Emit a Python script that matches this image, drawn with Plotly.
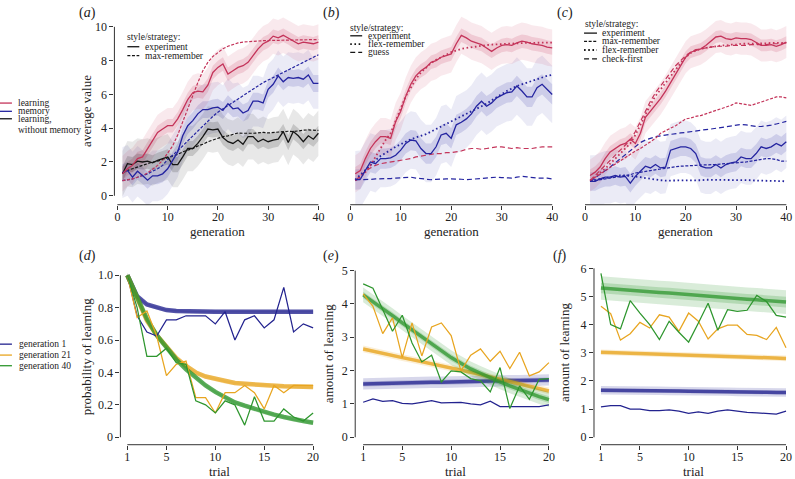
import plotly.graph_objects as go

W, H = 795, 479
FONT = "'Liberation Serif', 'Times New Roman', 'DejaVu Serif', serif"

gens = list(range(1, 41))
trials = list(range(1, 21))

# ---------------- panel (a) ----------------
a_learn_exp = [1.3, 1.6, 1.8, 2.2, 2.3, 2.8, 3.3, 3.75, 3.95, 4.15, 4.15, 4.55, 5.1, 5.7, 6.1, 6.2, 6.15, 6.55, 7.3, 7.6,
               7.8, 7.2, 7.4, 7.6, 7.7, 7.9, 8.3, 8.7, 9.0, 9.15, 9.45, 9.35, 9.5, 9.35, 9.15, 9.0, 9.1, 9.05, 9.0, 9.1]
a_learn_max = [0.9, 0.95, 1.0, 1.1, 1.2, 1.35, 1.55, 1.8, 2.1, 2.5, 2.95, 3.6, 4.4, 5.1, 5.9, 6.7, 7.4, 7.9, 8.25, 8.5,
               8.7, 8.85, 8.97, 9.05, 9.1, 9.13, 9.15, 9.17, 9.18, 9.19, 9.2, 9.2, 9.21, 9.22, 9.22, 9.23, 9.23, 9.24, 9.24, 9.25]
a_mem_exp = [1.37, 1.5, 1.1, 1.45, 1.2, 0.92, 1.18, 1.18, 1.3, 1.6, 2.1, 2.6, 3.55, 4.15, 4.45, 4.85, 5.1, 5.1, 5.2, 5.25,
             5.05, 5.45, 5.15, 5.2, 4.9, 5.05, 5.6, 5.6, 5.5, 6.3, 6.6, 7.1, 6.75, 7.0, 6.95, 7.0, 6.9, 7.15, 6.65, 6.65]
a_mem_max = [0.9, 0.95, 1.0, 1.1, 1.2, 1.3, 1.45, 1.6, 1.8, 2.15, 2.4, 2.65, 2.95, 3.25, 3.55, 3.85, 4.15, 4.45, 4.7, 4.95,
             5.15, 5.35, 5.55, 5.75, 5.95, 6.15, 6.35, 6.55, 6.7, 6.85, 7.0, 7.15, 7.3, 7.45, 7.6, 7.75, 7.9, 8.05, 8.2, 8.35]
a_nomem_exp = [1.3, 1.9, 1.85, 2.05, 2.0, 2.05, 1.95, 2.1, 2.2, 2.3, 1.85, 1.85, 2.3, 2.8, 2.8, 3.1, 3.5, 3.95, 3.9, 3.95,
               3.45, 3.2, 3.1, 3.3, 3.05, 3.5, 3.5, 3.2, 3.35, 3.2, 3.3, 3.35, 3.8, 3.15, 3.8, 3.55, 3.2, 3.55, 3.35, 3.7]
a_nomem_max = [1.35, 1.5, 1.6, 1.7, 1.8, 1.9, 2.0, 2.05, 2.15, 2.25, 2.35, 2.45, 2.6, 2.7, 2.8, 2.95, 3.05, 3.2, 3.3, 3.4,
               3.5, 3.55, 3.65, 3.72, 3.7, 3.68, 3.7, 3.72, 3.75, 3.72, 3.75, 3.78, 3.8, 3.82, 3.8, 3.85, 3.88, 3.9, 3.88, 3.87]
# (inner, outer) half-widths of the shaded intervals
a_learn_ci = (0.4, 1.05)
a_mem_ci = (0.5, 1.5)
a_nomem_ci = (0.45, 1.35)

# ---------------- panel (b) ----------------
b_learn_exp = [1.3, 1.5, 2.2, 2.8, 3.2, 3.5, 3.5, 3.4, 4.4, 5.0, 5.9, 6.6, 7.1, 7.4, 7.6, 7.9, 8.0, 8.2, 8.3, 8.4,
               9.0, 9.5, 9.35, 9.15, 9.05, 8.95, 8.75, 8.55, 8.75, 8.9, 8.95, 8.9, 9.05, 9.15, 9.1, 9.0, 8.95, 8.9, 8.8, 8.75]
b_learn_flex = [0.9, 1.1, 1.4, 1.8, 2.3, 2.8, 3.3, 3.7, 4.4, 5.2, 5.9, 6.4, 6.9, 7.3, 7.6, 7.85, 8.05, 8.2, 8.35, 8.5,
                8.6, 8.7, 8.75, 8.8, 8.85, 8.9, 8.92, 8.95, 8.97, 9.0, 9.0, 9.02, 9.03, 9.04, 9.05, 9.05, 9.06, 9.06, 9.07, 9.07]
b_learn_guess = [0.9, 1.2, 1.45, 1.65, 1.8, 1.9, 1.95, 2.0, 2.05, 2.1, 2.15, 2.2, 2.3, 2.35, 2.4, 2.45, 2.5, 2.5, 2.55, 2.55,
                 2.6, 2.65, 2.75, 2.8, 2.8, 2.75, 2.8, 2.85, 2.9, 2.9, 2.85, 2.8, 2.85, 2.8, 2.8, 2.8, 2.85, 2.9, 2.9, 2.9]
b_mem_exp = [0.95, 0.98, 1.5, 2.0, 1.9, 2.2, 2.2, 2.25, 2.4, 2.7, 3.1, 3.3, 3.25, 2.8, 2.5, 2.5, 2.9, 3.6, 3.7, 3.4,
             4.2, 4.35, 4.55, 4.85, 5.3, 5.6, 5.3, 5.5, 5.8, 5.95, 6.1, 6.15, 6.5, 6.2, 5.85, 5.85, 6.4, 6.6, 6.3, 6.0]
b_mem_flex = [0.95, 1.25, 1.55, 1.85, 2.1, 2.35, 2.55, 2.75, 2.9, 3.05, 3.2, 3.35, 3.45, 3.55, 3.65, 3.8, 3.95, 4.1, 4.25, 4.4,
              4.55, 4.7, 4.85, 5.0, 5.15, 5.3, 5.45, 5.65, 5.85, 6.05, 6.2, 6.35, 6.5, 6.6, 6.7, 6.8, 6.9, 7.0, 7.1, 7.15]
b_mem_guess = [0.95, 0.95, 0.95, 0.97, 1.0, 1.0, 1.0, 1.02, 1.05, 1.08, 1.1, 1.1, 1.05, 1.02, 0.98, 0.95, 0.97, 1.0, 1.0, 1.0,
               1.0, 0.98, 0.95, 0.98, 1.02, 1.05, 1.08, 1.1, 1.1, 1.08, 1.05, 1.05, 1.1, 1.15, 1.12, 1.08, 1.05, 1.05, 1.05, 1.0]
b_learn_ci = (0.4, 1.1)
b_mem_ci = (0.6, 1.7)

# ---------------- panel (c) ----------------
c_learn_exp = [1.2, 1.4, 1.7, 2.2, 2.6, 2.8, 3.0, 3.1, 3.35, 3.1, 3.7, 4.65, 5.0, 5.35, 5.75, 6.2, 6.7, 7.2, 7.7, 8.2,
               8.5, 8.6, 8.7, 8.9, 9.15, 9.4, 9.45, 9.3, 9.25, 9.35, 9.3, 9.3, 9.25, 9.1, 8.9, 8.9, 8.95, 8.85, 8.95, 9.1]
c_learn_max = [0.9, 1.1, 1.3, 1.5, 1.7, 1.9, 2.1, 2.3, 2.5, 2.65, 2.8, 3.0, 3.2, 3.4, 3.7, 3.85, 4.0, 4.15, 4.35, 4.55,
               4.6, 4.7, 4.75, 4.85, 4.95, 5.05, 5.15, 5.25, 5.35, 5.5, 5.45, 5.4, 5.35, 5.45, 5.55, 5.65, 5.75, 5.85, 5.85, 5.8]
c_learn_flex = [0.9, 1.1, 1.35, 1.6, 1.9, 2.2, 2.5, 2.8, 3.1, 3.6, 4.2, 4.85, 5.4, 5.9, 6.3, 6.7, 7.1, 7.5, 7.85, 8.2,
                8.45, 8.6, 8.7, 8.75, 8.8, 8.85, 8.9, 8.9, 8.95, 8.95, 9.0, 9.0, 9.0, 9.0, 9.02, 9.02, 9.05, 9.05, 9.05, 9.05]
c_learn_check = [0.9, 1.2, 1.5, 1.8, 2.1, 2.4, 2.7, 3.0, 3.3, 3.8, 4.4, 5.05, 5.6, 6.1, 6.5, 6.9, 7.3, 7.7, 8.0, 8.3,
                 8.5, 8.65, 8.7, 8.75, 8.8, 8.85, 8.85, 8.85, 8.9, 8.9, 8.9, 8.9, 8.95, 8.95, 8.95, 8.95, 9.0, 9.0, 9.0, 9.05]
c_mem_exp = [0.85, 0.85, 1.0, 1.1, 1.1, 1.2, 1.1, 1.15, 0.75, 1.15, 1.45, 1.75, 1.65, 1.85, 1.65, 1.7, 2.7, 2.8, 2.9, 2.9,
             2.8, 2.5, 1.75, 1.65, 1.65, 1.85, 1.65, 1.85, 1.95, 2.0, 2.3, 2.2, 2.2, 2.5, 2.9, 2.8, 2.9, 3.1, 2.95, 3.2]
c_mem_max = [0.85, 0.9, 0.95, 1.0, 1.05, 1.1, 1.15, 1.2, 1.25, 1.35, 1.4, 1.45, 1.5, 1.55, 1.6, 1.65, 1.7, 1.72, 1.75, 1.78,
             1.8, 1.8, 1.82, 1.82, 1.85, 1.85, 1.88, 1.9, 1.92, 1.95, 1.98, 2.0, 2.05, 2.1, 2.15, 2.2, 2.2, 2.15, 2.05, 2.05]
c_mem_flex = [0.9, 0.95, 1.0, 1.05, 1.1, 1.15, 1.2, 1.2, 1.18, 1.15, 1.1, 1.05, 1.0, 0.95, 0.92, 0.9, 0.9, 0.9, 0.9, 0.9,
              0.9, 0.92, 0.92, 0.95, 0.95, 0.95, 0.95, 0.95, 0.95, 0.95, 0.95, 0.92, 0.92, 0.9, 0.9, 0.9, 0.88, 0.88, 0.87, 0.85]
c_mem_check = [0.85, 1.05, 1.25, 1.5, 1.7, 1.95, 2.2, 2.45, 2.7, 2.95, 3.15, 3.3, 3.4, 3.5, 3.55, 3.6, 3.65, 3.7, 3.72, 3.75,
               3.8, 3.85, 3.9, 3.92, 3.95, 4.0, 4.05, 4.1, 4.15, 4.2, 4.22, 4.2, 4.15, 4.1, 4.1, 4.12, 4.18, 4.25, 4.32, 4.4]
c_learn_ci = (0.35, 0.95)
c_mem_ci = (0.55, 1.55)

# ---------------- panel (d) ----------------
d_g1 = [1.0, 0.75, 0.65, 0.625, 0.725, 0.725, 0.75, 0.75, 0.75, 0.70, 0.775, 0.60, 0.725, 0.75, 0.675, 0.725, 0.925, 0.65, 0.70, 0.675]
d_g21 = [1.0, 0.74, 0.78, 0.625, 0.38, 0.45, 0.47, 0.245, 0.245, 0.15, 0.275, 0.275, 0.32, 0.275, 0.175, 0.32, 0.275, 0.32, 0.32, 0.32]
d_g40 = [1.0, 0.8, 0.5, 0.5, 0.55, 0.46, 0.45, 0.225, 0.2, 0.15, 0.225, 0.2, 0.075, 0.25, 0.1, 0.1, 0.175, 0.125, 0.1, 0.15]
d_fit1 = [1.0, 0.87, 0.82, 0.80, 0.785, 0.78, 0.777, 0.776, 0.775, 0.775, 0.775, 0.775, 0.775, 0.775, 0.775, 0.775, 0.775, 0.775, 0.775, 0.775]
d_fit21 = [1.0, 0.86, 0.72, 0.63, 0.56, 0.49, 0.44, 0.40, 0.375, 0.36, 0.345, 0.335, 0.33, 0.325, 0.32, 0.318, 0.315, 0.313, 0.312, 0.31]
d_fit40 = [1.0, 0.86, 0.73, 0.63, 0.55, 0.48, 0.42, 0.37, 0.32, 0.28, 0.245, 0.215, 0.195, 0.175, 0.155, 0.14, 0.125, 0.11, 0.1, 0.09]

# ---------------- panel (e) ----------------
e_g1 = [1.05, 1.15, 1.08, 1.1, 1.02, 1.0, 1.05, 1.1, 1.03, 1.03, 1.05, 1.0, 0.97, 1.08, 0.92, 0.92, 0.92, 0.92, 0.92, 0.97]
e_g21 = [4.3, 3.93, 3.11, 3.58, 2.39, 3.43, 2.44, 3.31, 3.43, 3.05, 1.99, 2.46, 2.65, 2.28, 2.58, 2.06, 2.55, 1.84, 1.96, 2.24]
e_g40 = [4.6, 4.47, 3.83, 3.18, 3.66, 2.83, 2.26, 2.46, 1.66, 1.99, 1.96, 1.76, 1.69, 1.36, 2.09, 0.86, 1.54, 1.14, 1.74, 1.76]
e_fit1 = [1.6, 1.61, 1.61, 1.62, 1.63, 1.63, 1.64, 1.65, 1.65, 1.66, 1.66, 1.67, 1.68, 1.68, 1.69, 1.7, 1.7, 1.71, 1.71, 1.72]
e_fit21 = [2.65, 2.58, 2.52, 2.45, 2.39, 2.33, 2.27, 2.21, 2.15, 2.09, 2.02, 1.95, 1.88, 1.81, 1.74, 1.67, 1.6, 1.53, 1.46, 1.39]
e_fit40 = [4.27, 4.07, 3.87, 3.65, 3.43, 3.22, 3.0, 2.8, 2.6, 2.39, 2.22, 2.05, 1.92, 1.78, 1.66, 1.54, 1.43, 1.32, 1.22, 1.13]

# ---------------- panel (f) ----------------
f_g1 = [1.08, 1.12, 1.12, 1.0, 1.0, 0.95, 0.95, 0.97, 0.93, 0.85, 0.9, 0.85, 0.93, 0.97, 0.93, 0.88, 0.87, 0.85, 0.82, 0.93]
f_g21 = [4.65, 4.39, 3.45, 3.68, 4.08, 3.88, 4.35, 4.27, 3.76, 4.41, 4.12, 3.49, 3.85, 3.98, 3.98, 3.65, 3.62, 3.47, 3.9, 3.18]
f_g40 = [5.82, 4.0, 3.85, 4.85, 4.41, 4.0, 3.47, 4.12, 3.73, 3.38, 4.06, 4.76, 3.8, 4.53, 4.47, 4.51, 5.04, 4.82, 4.33, 4.27]
f_fit1 = [1.67, 1.67, 1.66, 1.66, 1.65, 1.65, 1.65, 1.64, 1.64, 1.63, 1.63, 1.62, 1.62, 1.62, 1.61, 1.61, 1.6, 1.6, 1.59, 1.59]
f_fit21 = [3.02, 3.01, 3.0, 2.99, 2.98, 2.96, 2.95, 2.94, 2.93, 2.92, 2.91, 2.9, 2.89, 2.88, 2.87, 2.85, 2.84, 2.83, 2.82, 2.8]
f_fit40 = [5.3, 5.27, 5.25, 5.22, 5.2, 5.17, 5.14, 5.12, 5.09, 5.06, 5.04, 5.01, 4.98, 4.96, 4.93, 4.9, 4.88, 4.85, 4.82, 4.8]

# spread of posterior fit lines (half-widths)
fit_spread = {"d1": 0.012, "d21": 0.014, "d40": 0.014,
              "e1": 0.17, "e21": 0.1, "e40": 0.22,
              "f1": 0.15, "f21": 0.1, "f40": 0.42}

RED = "#c4345a"
BLUE = "#2424a0"
BLACK = "#151515"
ORANGE = "#e8a520"
GREEN = "#2e962e"
NAVY = "#23238f"


def rgba(h, a):
    h = h.lstrip("#")
    return "rgba(%d,%d,%d,%s)" % (int(h[0:2], 16), int(h[2:4], 16), int(h[4:6], 16), a)


def rng(p_lo, p_hi, v1, p1, v2, p2):
    s = (v2 - v1) / (p2 - p1)
    return [v1 + (p_lo - p1) * s, v1 + (p_hi - p1) * s]


fig = go.Figure()

# panels: suffix, x-domain px, y-domain px (top, bottom), x anchors, y anchors
panels = {
    "a": ("", (115, 322), (12, 203), (0, 118, 40, 320), (0, 194, 10, 24)),
    "b": ("2", (349, 557), (12, 203), (0, 352, 40, 555), (0, 194, 10, 24)),
    "c": ("3", (585, 792), (12, 203), (0, 588, 40, 790.3), (0, 194, 10, 24)),
    "d": ("4", (121, 316.5), (263, 444.5), (1, 128, 20, 314.7), (0, 437, 1, 274)),
    "e": ("5", (357, 553.5), (263, 444.5), (1, 365, 20, 551.7), (0, 437, 5, 269.3)),
    "f": ("6", (597, 792), (263, 444.5), (1, 604, 20, 790), (0, 437, 6, 267)),
}

tickfont = dict(family=FONT, size=12, color="#222")
layout_axes = {}
shapes = []
for key, (sfx, xd, yd, xa, ya) in panels.items():
    top = key in "abc"
    xv = [0, 10, 20, 30, 40] if top else [1, 5, 10, 15, 20]
    layout_axes["xaxis" + sfx] = dict(
        domain=[xd[0] / W, xd[1] / W], range=rng(xd[0], xd[1], *xa), anchor="y" + sfx,
        tickvals=xv, ticks="outside", ticklen=4, tickcolor="#333", showline=False,
        showgrid=False, zeroline=False, tickfont=tickfont, ticklabelstandoff=-3)
    if key == "d":
        yv = [0, 0.2, 0.4, 0.6, 0.8, 1.0]
        yt = ["0", "0.2", "0.4", "0.6", "0.8", "1.0"]
    elif key == "e":
        yv = [0, 1, 2, 3, 4, 5]
        yt = [str(v) for v in yv]
    elif key == "f":
        yv = [0, 1, 2, 3, 4, 5, 6]
        yt = [str(v) for v in yv]
    else:
        yv = [0, 2, 4, 6, 8, 10]
        yt = [str(v) for v in yv]
    show_y = key in "adef"
    layout_axes["yaxis" + sfx] = dict(
        domain=[1 - yd[1] / H, 1 - yd[0] / H], range=rng(yd[1], yd[0], *ya), anchor="x" + sfx,
        tickvals=yv, ticktext=yt, ticks="outside" if show_y else "", ticklen=4, tickcolor="#333",
        showticklabels=show_y, showline=False, showgrid=False, zeroline=False, tickfont=tickfont)
    xr = "x" + sfx
    yr = "y" + sfx
    # R-style axis lines spanning the tick range
    shapes.append(dict(type="line", xref=xr, yref=yr + " domain", x0=xv[0], x1=xv[-1], y0=0, y1=0,
                       line=dict(color="#333", width=1)))
    if show_y:
        shapes.append(dict(type="line", xref=xr + " domain", yref=yr, x0=0, x1=0, y0=yv[0], y1=yv[-1],
                           line=dict(color="#333", width=1)))


def band(sfx, x, y, hw, color, alpha):
    hi = [v + hw for v in y]
    lo = [v - hw for v in y]
    fig.add_trace(go.Scatter(x=x, y=hi, mode="lines", line=dict(width=0), hoverinfo="skip",
                             showlegend=False, xaxis="x" + sfx, yaxis="y" + sfx))
    fig.add_trace(go.Scatter(x=x, y=lo, mode="lines", line=dict(width=0), fill="tonexty",
                             fillcolor=rgba(color, alpha), hoverinfo="skip", showlegend=False,
                             xaxis="x" + sfx, yaxis="y" + sfx))


def line(sfx, x, y, color, dash="solid", width=1.3):
    fig.add_trace(go.Scatter(x=x, y=y, mode="lines", line=dict(color=color, dash=dash, width=width),
                             showlegend=False, xaxis="x" + sfx, yaxis="y" + sfx))


DASH_MAX = "3px,1.6px"
DASH_FLEX = "1.6px,2.6px"
DASH_LONG = "5px,3px"

# ---- (a)
for y, ci, col, a in [(a_mem_exp, a_mem_ci, BLUE, 0.09), (a_learn_exp, a_learn_ci, RED, 0.11),
                      (a_nomem_exp, a_nomem_ci, "#000000", 0.09)]:
    band("", gens, y, ci[1], col, a)
    band("", gens, y, ci[0], col, a + 0.06)
line("", gens, a_nomem_max, BLACK, DASH_MAX, 1.2)
line("", gens, a_mem_max, BLUE, DASH_MAX, 1.2)
line("", gens, a_learn_max, RED, DASH_MAX, 1.2)
line("", gens, a_nomem_exp, BLACK)
line("", gens, a_mem_exp, BLUE)
line("", gens, a_learn_exp, RED)

# ---- (b)
for y, ci, col, a in [(b_mem_exp, b_mem_ci, BLUE, 0.09), (b_learn_exp, b_learn_ci, RED, 0.11)]:
    band("2", gens, y, ci[1], col, a)
    band("2", gens, y, ci[0], col, a + 0.06)
line("2", gens, b_mem_guess, BLUE, DASH_LONG, 1.2)
line("2", gens, b_learn_guess, RED, DASH_LONG, 1.2)
line("2", gens, b_mem_flex, BLUE, DASH_FLEX, 1.8)
line("2", gens, b_learn_flex, RED, DASH_FLEX, 1.8)
line("2", gens, b_mem_exp, BLUE)
line("2", gens, b_learn_exp, RED)

# ---- (c)
for y, ci, col, a in [(c_mem_exp, c_mem_ci, BLUE, 0.09), (c_learn_exp, c_learn_ci, RED, 0.11)]:
    band("3", gens, y, ci[1], col, a)
    band("3", gens, y, ci[0], col, a + 0.06)
line("3", gens, c_mem_check, BLUE, DASH_LONG, 1.2)
line("3", gens, c_learn_check, RED, DASH_LONG, 1.2)
line("3", gens, c_mem_flex, BLUE, DASH_FLEX, 1.8)
line("3", gens, c_learn_flex, RED, DASH_FLEX, 1.8)
line("3", gens, c_mem_max, BLUE, DASH_MAX, 1.2)
line("3", gens, c_learn_max, RED, DASH_MAX, 1.2)
line("3", gens, c_mem_exp, BLUE)
line("3", gens, c_learn_exp, RED)

# ---- (d), (e), (f)
for sfx, p, raws, fits in [
    ("4", "d", (d_g1, d_g21, d_g40), (d_fit1, d_fit21, d_fit40)),
    ("5", "e", (e_g1, e_g21, e_g40), (e_fit1, e_fit21, e_fit40)),
    ("6", "f", (f_g1, f_g21, f_g40), (f_fit1, f_fit21, f_fit40)),
]:
    cols = (NAVY, ORANGE, GREEN)
    gnames = ("1", "21", "40")
    for fit, col, gname in zip(fits, cols, gnames):
        hw = fit_spread[p + gname]
        band(sfx, trials, fit, hw, col, 0.18)
        band(sfx, trials, fit, hw * 0.45, col, 0.22)
        line(sfx, trials, fit, rgba(col, 0.75), "solid", 4.5 if p == "d" else 3.5)
    for raw, col in zip(raws, cols):
        line(sfx, trials, raw, col, "solid", 1.25)

# ---------------- annotations ----------------
ann = []


def txt(x, y, s, size=13, anchor="center", angle=0):
    ann.append(dict(xref="paper", yref="paper", x=x / W, y=1 - y / H, text=s, showarrow=False,
                    xanchor=anchor, yanchor="middle", textangle=angle, borderpad=0,
                    font=dict(family=FONT, size=size, color="#222")))


# panel labels
for lab, x, y in [("a", 88, 10), ("b", 333, 10), ("c", 568, 10), ("d", 88, 255), ("e", 333, 255), ("f", 563, 255)]:
    txt(x, y, "(<i>%s</i>)" % lab, size=14)

# axis titles
txt(87, 109, "average value", angle=-90)
txt(87, 356, "probability of learning", angle=-90)
txt(330, 353, "amount of learning", angle=-90)
txt(568, 352, "amount of learning", angle=-90)
for xc in (219, 453.5, 689):
    txt(xc, 230, "generation")
for xc in (221, 458, 697):
    txt(xc, 471, "trial")

# left legends
LEG = 9.5
for yy, col, label in [(100.7, RED, "learning"), (109, BLUE, "memory"), (116.5, BLACK, "learning,")]:
    shapes.append(dict(type="line", xref="paper", yref="paper", x0=0, x1=12 / W, y0=1 - yy / H, y1=1 - yy / H,
                       line=dict(color=col, width=1.3)))
    txt(17.3, yy, label, size=LEG, anchor="left")
txt(17.3, 127.3, "without memory", size=LEG, anchor="left")
for yy, col, label in [(343.3, NAVY, "generation 1"), (354.3, ORANGE, "generation 21"), (365, GREEN, "generation 40")]:
    shapes.append(dict(type="line", xref="paper", yref="paper", x0=0, x1=12 / W, y0=1 - yy / H, y1=1 - yy / H,
                       line=dict(color=col, width=1.3)))
    txt(18, yy, label, size=LEG, anchor="left")

# style/strategy legends inside panels
style_dash = {"experiment": ("solid", 1.3), "max-remember": (DASH_MAX, 1.2),
              "flex-remember": (DASH_FLEX, 1.8), "guess": (DASH_LONG, 1.2), "check-first": (DASH_LONG, 1.2)}
for (tx, ty, lx0, lx1, txx, rows) in [
    (127, 34.7, 128, 140, 144.7, [(44, "experiment"), (53, "max-remember")]),
    (351, 24.7, 352, 364, 369, [(33, "experiment"), (41.3, "flex-remember"), (49.7, "guess")]),
    (587, 21.3, 587, 600, 603.7, [(30.3, "experiment"), (38.7, "max-remember"), (47.3, "flex-remember"),
                                  (56.3, "check-first")]),
]:
    txt(tx, ty, "style/strategy:", size=9.5, anchor="left")
    for yy, name in rows:
        d, wdt = style_dash[name]
        shapes.append(dict(type="line", xref="paper", yref="paper", x0=lx0 / W, x1=lx1 / W,
                           y0=1 - yy / H, y1=1 - yy / H, line=dict(color=BLACK, width=wdt, dash=d)))
        txt(txx, yy, name, size=9.5, anchor="left")

fig.update_layout(
    width=W, height=H, margin=dict(l=0, r=0, t=0, b=0), paper_bgcolor="white", plot_bgcolor="white",
    showlegend=False, font=dict(family=FONT, size=12, color="#222"),
    annotations=ann, shapes=shapes, **layout_axes)

fig.write_html("out.html", config={"displayModeBar": False},
               post_script="document.body.style.margin='0px';")
